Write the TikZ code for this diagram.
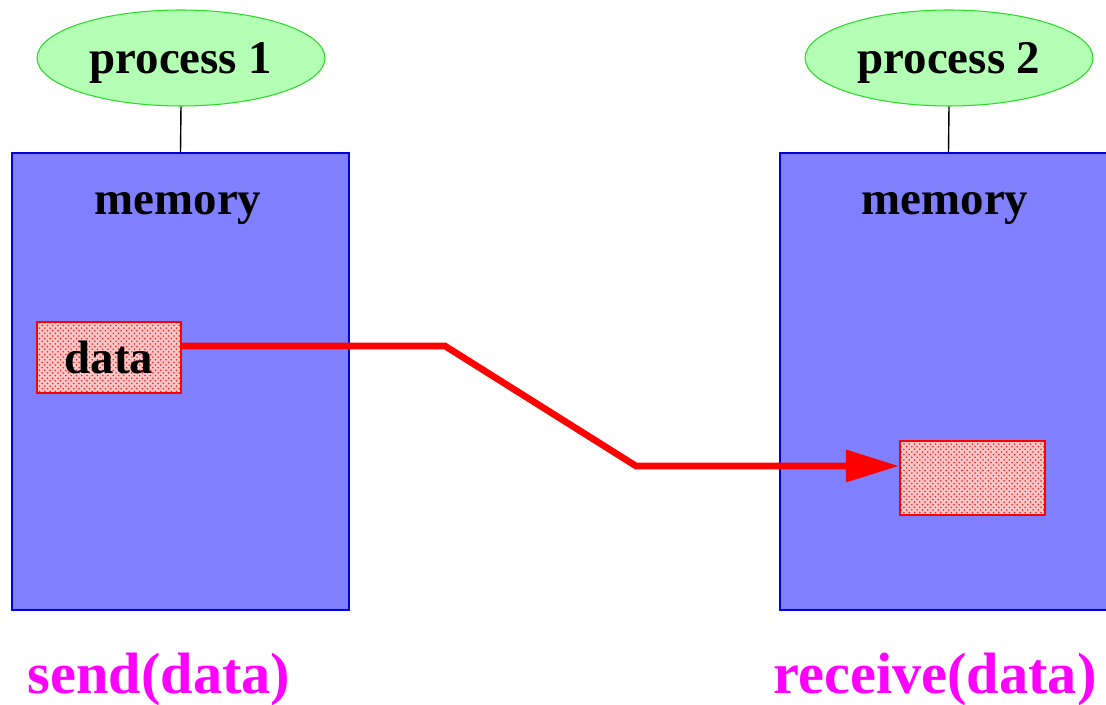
\documentclass[tikz,border=0pt]{standalone}
\usepackage{fontspec}
\setmainfont{Liberation Serif}
\usetikzlibrary{shapes.geometric,arrows.meta,patterns}

\definecolor{procfill}{RGB}{179,255,179}
\definecolor{procline}{RGB}{40,220,40}
\definecolor{memfill}{RGB}{128,128,255}
\definecolor{memline}{RGB}{0,0,225}
\definecolor{callcol}{RGB}{255,0,255}

\begin{document}
\begin{tikzpicture}[x=0.02cm,y=-0.02cm,
    proc/.style={ellipse,draw=procline,fill=procfill,line width=0.6pt,
        minimum width=5.76cm,minimum height=1.92cm,inner sep=0pt,text depth=0pt,
        font=\fontsize{26.7}{30}\selectfont\bfseries},
    membox/.style={rectangle,draw=memline,fill=memfill,line width=1pt,
        minimum width=6.74cm,minimum height=9.14cm,inner sep=0pt},
    buf/.style={rectangle,draw=red,line width=1.2pt,
        preaction={fill=red!22},pattern=crosshatch dots,pattern color=red!90,
        inner sep=0pt,font=\fontsize{26.7}{30}\selectfont\bfseries},
    lbl/.style={anchor=base,inner sep=0pt,font=\fontsize{26.7}{30}\selectfont\bfseries},
    call/.style={anchor=base,inner sep=0pt,text=callcol,
        font=\fontsize{33.2}{38}\selectfont\bfseries}]
  \clip (0,0) rectangle (1106,705);
  \fill[white] (0,0) rectangle (1106,705);

  % two processes with their memory
  \node[membox] (mem1) at (180.5,381.5) {};
  \node[membox] (mem2) at (948.5,381.5) {};
  \node[proc] (proc1) at (181,58) {process 1};
  \node[proc] (proc2) at (949,58) {process 2};
  \draw[line width=0.8pt] (proc1.south) -- (mem1.north);
  \draw[line width=0.8pt] (proc2.south) -- (mem2.north);

  \node[lbl] (memlbl1) at (178,215) {memory};
  \node[lbl] (memlbl2) at (945,215) {memory};

  % data and receive buffer
  \node[buf,minimum width=2.88cm,minimum height=1.42cm] (data) at (109,357.5) {data};
  \node[buf,minimum width=2.9cm,minimum height=1.48cm] (recvbuf) at (972.5,478) {};

  \coordinate (bend1) at (445,346);
  \coordinate (bend2) at (636,466);
  \draw[red,line width=3.8pt,-{Triangle[length=1.06cm,width=0.62cm]}]
    (data.east |- bend1) -- (bend1) -- (bend2) -- (recvbuf.west |- bend2);

  \node[call] (send) at (159,694) {send(data)};
  \node[call] (recv) at (935,694) {receive(data)};
\end{tikzpicture}
\end{document}
